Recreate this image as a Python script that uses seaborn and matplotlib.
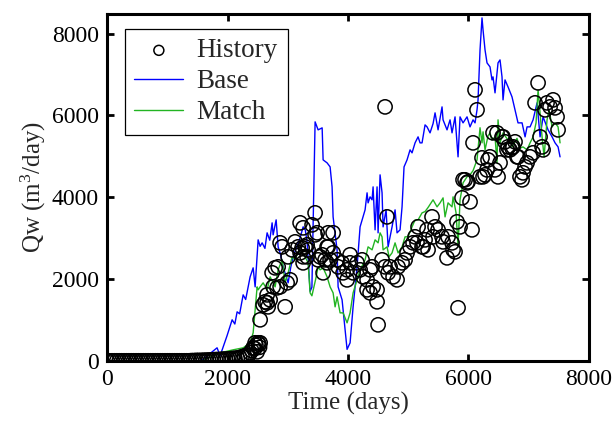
import numpy as np
import pandas as pd
import matplotlib
matplotlib.use("Agg")
import matplotlib.pyplot as plt
import seaborn as sns

# ---------------- data ----------------
base_t = [1580, 1825, 1875, 1990, 2075, 2120, 2158, 2200, 2258, 2300, 2374, 2424, 2457, 2507,
          2540, 2573, 2620, 2656, 2700, 2739, 2756, 2806, 2839, 2880, 2922, 3005, 3050, 3088,
          3150, 3204, 3254, 3290, 3320, 3370, 3400, 3453, 3503, 3570, 3586, 3652, 3702, 3735,
          3752, 3818, 3835, 3901, 3951, 3984, 4034, 4084, 4150, 4200, 4283, 4316, 4333, 4366,
          4399, 4416, 4449, 4482, 4499, 4532, 4565, 4582, 4632, 4665, 4731, 4781, 4814, 4864,
          4897, 4930, 4980, 5030, 5063, 5113, 5163, 5196, 5229, 5279, 5312, 5362, 5412, 5445,
          5495, 5561, 5578, 5644, 5694, 5727, 5777, 5827, 5860, 5910, 5976, 6026, 6076, 6109,
          6142, 6159, 6192, 6225, 6242, 6275, 6308, 6358, 6391, 6408, 6441, 6491, 6524, 6557,
          6574, 6607, 6657, 6723, 6773, 6823, 6890, 6940, 6973, 7023, 7073, 7139, 7189, 7239,
          7322, 7389, 7438, 7488, 7521]
base_q = [25, 318, 122, 611, 1003, 900, 1198, 1150, 1613, 1500, 2054, 2274, 1809, 2958,
          2800, 2885, 2750, 3130, 2950, 3374, 3081, 3447, 2787, 2600, 2298, 1907, 2300, 2543,
          2800, 3007, 3276, 3200, 2909, 1700, 1800, 5844, 5648, 5697, 4914, 4841, 4743, 4254,
          3520, 2714, 1809, 1491, 758, 280, 440, 1320, 2298, 3276, 3692, 4108, 3863, 4010,
          3937, 4254, 3203, 4254, 3130, 4548, 4108, 3276, 3692, 2787, 3276, 3692, 3130, 3203,
          3765, 4743, 4914, 5159, 5086, 5330, 5477, 5330, 5330, 5770, 5721, 5575, 5800, 6064,
          5648, 6210, 5893, 5648, 5893, 5575, 5966, 4988, 5966, 5819, 5966, 5721, 5893, 5819,
          6137, 6381, 7604, 8386, 8093, 7604, 7286, 7188, 6870, 6944, 6553, 7286, 7359, 6944,
          6381, 6870, 6699, 6455, 6137, 5819, 5819, 5477, 5721, 5721, 5893, 6308, 5477, 5966,
          5648, 5477, 5330, 5232, 4988]

match_t = [1600, 1880, 2092, 2258, 2374, 2424, 2490, 2507, 2540, 2590, 2656, 2706, 2789, 2839,
           2905, 2955, 3005, 3071, 3121, 3171, 3237, 3287, 3337, 3370, 3400, 3460, 3503, 3536,
           3586, 3652, 3702, 3752, 3785, 3818, 3868, 3918, 3984, 4034, 4084, 4150, 4200, 4283,
           4333, 4399, 4449, 4499, 4532, 4565, 4582, 4648, 4681, 4731, 4781, 4831, 4897, 4947,
           4997, 5063, 5113, 5163, 5229, 5279, 5329, 5412, 5478, 5528, 5578, 5611, 5661, 5727,
           5744, 5794, 5827, 5860, 5910, 5976, 6026, 6076, 6142, 6192, 6225, 6242, 6275, 6325,
           6358, 6391, 6441, 6474, 6491, 6524, 6574, 6607, 6657, 6690, 6723, 6806, 6856, 6906,
           6973, 7023, 7073, 7122, 7156, 7189, 7222, 7256, 7305, 7339, 7389, 7438, 7488, 7521]
match_q = [25, 196, 269, 318, 440, 685, 1809, 1736, 1809, 1907, 1736, 2054, 1809, 2225,
           2469, 1907, 2152, 2543, 2469, 2665, 2640, 2543, 2396, 1662, 1590, 1980, 2300, 2225,
           2274, 2054, 1809, 1662, 1320, 1565, 1173, 1173, 929, 1173, 1662, 1980, 2225, 2469,
           2787, 2714, 2958, 2885, 3130, 3032, 2714, 2787, 2543, 2640, 2885, 2640, 2787, 3032,
           3032, 3276, 3447, 3447, 3618, 3650, 3750, 3937, 3765, 3863, 3985, 3520, 3863, 3765,
           4010, 3618, 2787, 3937, 4352, 4500, 4550, 4650, 4914, 5700, 5330, 5600, 5159, 5500,
           5575, 5400, 5477, 4841, 5893, 5330, 5575, 5500, 5403, 5477, 5232, 5440, 5200, 5232,
           5159, 5330, 5477, 5819, 6626, 6064, 5477, 4988, 5893, 6137, 5721, 5819, 5721, 5330]

hist_t = [0, 40, 80, 120, 160, 200, 240, 280, 320, 360, 400, 440, 480, 520, 560, 600, 640,
          680, 720, 760, 800, 840, 880, 920, 960, 1000, 1040, 1080, 1120, 1160, 1200, 1240,
          1280, 1320, 1360, 1400, 1440, 1480, 1520, 1560, 1600, 1640, 1680, 1720, 1760, 1800,
          1840, 1880, 1920, 1960, 2000, 2040, 2080, 2120, 2160, 2200, 2240, 2280, 2320,
          2340, 2374, 2400, 2424, 2450, 2457, 2470, 2490, 2507, 2520, 2530, 2540,
          2540, 2590, 2623, 2656, 2673, 2706, 2656, 2756, 2822, 2872, 2739, 2789, 2839, 2905,
          2872, 2955, 2988, 3038, 3005, 3071, 3121, 3171, 3204, 3237, 3254, 3320, 3337, 3403,
          3453, 3486, 3503, 3570, 3619, 3669, 3669, 3453, 3254, 3287, 3204, 3320, 3254,
          3536, 3652, 3752, 3586, 3702, 3752, 3818, 3652, 3835, 3901, 3984, 4034, 4034, 3918,
          3984, 4084, 4150, 4200, 4233, 4250, 4316, 4366, 4399, 4316, 4366, 4482, 4416, 4482,
          4499, 4615, 4648, 4565, 4615, 4665, 4698, 4748, 4814, 4831, 4897, 4947, 4980, 5030,
          5080, 5113, 5163, 5146, 5229, 5279, 5312, 5329, 5395, 5445, 5495, 5561, 5578,
          5661, 5727, 5744, 5777, 5246, 5412, 5644, 5810, 5860, 5893, 5827, 5943, 5993, 6026,
          6059, 6076, 6109, 6142, 6192, 6225, 6242, 6275, 6308, 6325, 6358, 6408, 6441, 6474,
          6491, 6524, 6557, 6574, 6607, 6640, 6657, 6690, 6723, 6740, 6773, 6806, 6823, 6856,
          6890, 6906, 6940, 6973, 7023, 7073, 7106, 7156, 7189, 7222, 7239, 7272, 7305, 7355,
          7405, 7438, 7471, 7488, 5910, 5976]
hist_q = [0, 0, 0, 0, 0, 0, 0, 0, 0, 0, 0, 0, 0, 0, 0, 0, 0,
          0, 0, 0, 0, 0, 0, 0, 0, 0, 0, 0, 0, 0, 0, 0,
          0, 0, 0, 5, 5, 10, 10, 10, 15, 15, 20, 20, 25, 30,
          30, 35, 40, 40, 45, 50, 60, 60, 70, 80, 100, 120, 140,
          120, 196, 250, 318, 300, 440, 380, 220, 440, 400, 330, 440,
          1003, 1369, 1443, 1418, 1320, 1491, 1613, 1809, 1785, 1809, 2152, 2274, 2298, 2787,
          2885, 1320, 1907, 1980, 2543, 2714, 2909, 2787, 3374, 2763, 2543, 2836, 2714, 3325,
          3618, 3130, 2469, 2592, 2469, 3130, 2787, 3081, 3252, 2787, 2640, 2543, 2396,
          2543, 2787, 3130, 2152, 2469, 2640, 2469, 2396, 2298, 2396, 2225, 2592, 2396, 2152,
          1980, 2152, 2396, 2225, 2469, 2054, 1980, 2225, 2298, 1736, 1662, 1736, 1809, 1443,
          880, 6210, 3520, 2469, 2298, 2152, 2298, 2054, 1980, 2298, 2396, 2469, 2640, 2787,
          2885, 3032, 3276, 2885, 2787, 2958, 3203, 2714, 3520, 3276, 3203, 3032, 2909,
          3032, 2885, 2714, 2665, 2787, 3032, 2518, 3398, 3276, 3985, 1296, 4426, 4377, 3888,
          3203, 5330, 6626, 6137, 4499, 4963, 4499, 4548, 4670, 4914, 4988, 5575, 4670, 5575,
          4499, 4841, 5477, 5477, 5355, 5159, 5232, 5159, 5208, 5232, 5355, 4988, 4988, 4499,
          4426, 4597, 4743, 4841, 4988, 5086, 6308, 6797, 5477, 5232, 5159, 6137, 6308, 6210,
          6381, 6186, 5966, 5648, 4426, 4352]

xticks = [0, 2000, 4000, 6000, 8000]
yticks = [0, 2000, 4000, 6000, 8000]

# ---------------- plotting ----------------
sns.set_style("ticks")
plt.rcParams["font.family"] = ["Liberation Serif", "DejaVu Serif"]
plt.rcParams["mathtext.fontset"] = "custom"
plt.rcParams["mathtext.rm"] = "Liberation Serif"
plt.rcParams["mathtext.default"] = "regular"

fig = plt.figure(figsize=(6.16, 4.26), dpi=100)
ax = fig.add_axes([0.174, 0.153, 0.782, 0.814])

hist = pd.DataFrame({"t": hist_t, "q": hist_q})
base = pd.DataFrame({"t": base_t, "q": base_q})
match = pd.DataFrame({"t": match_t, "q": match_q})

sns.scatterplot(data=hist, x="t", y="q", ax=ax, marker="o", s=105,
                facecolor="none", edgecolor="black", linewidth=1.1, label="History", zorder=3)
sns.lineplot(data=base, x="t", y="q", ax=ax, color="#0000ff", linewidth=1.0,
             estimator=None, sort=False, label="Base", zorder=2)
sns.lineplot(data=match, x="t", y="q", ax=ax, color="#22b422", linewidth=1.0,
             estimator=None, sort=False, label="Match", zorder=2)

ax.set_xlim(0, 8000)
ax.set_ylim(0, 8480)
ax.set_xticks(xticks)
ax.set_yticks(yticks)
ax.tick_params(direction="in", length=5, width=2, top=True, right=True,
               labelsize=17, pad=6, colors="black")
for sp in ax.spines.values():
    sp.set_visible(True)
    sp.set_linewidth(2.2)
    sp.set_color("black")

ax.set_xlabel("Time (days)", fontsize=18, labelpad=1)
ax.set_ylabel("Qw (m$^3$/day)", fontsize=18, labelpad=3)

leg = ax.legend(loc="upper left", bbox_to_anchor=(0.037, 0.957), borderaxespad=0,
                fontsize=19.5, frameon=True, fancybox=False, framealpha=1,
                edgecolor="black", markerscale=0.7, handlelength=1.8,
                borderpad=0.35, labelspacing=0.22, handletextpad=0.5)
leg.get_frame().set_linewidth(0.9)
leg.legend_handles[0].set_facecolor("none")
leg.legend_handles[0].set_edgecolor("black")

fig.savefig("out.png", dpi=100)
